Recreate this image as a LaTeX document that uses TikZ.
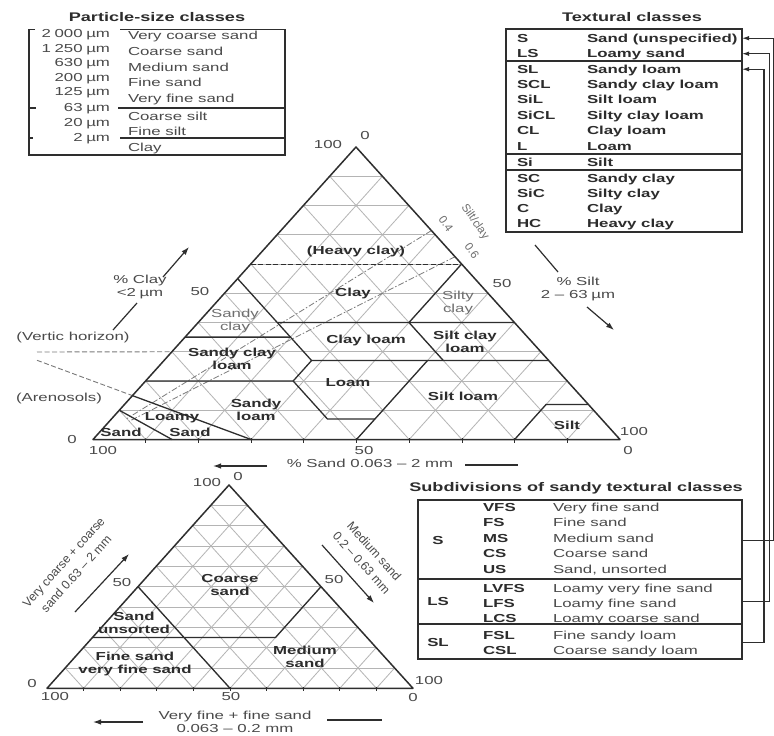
\documentclass[tikz,border=0pt]{standalone}
\usepackage{fontspec}
\setmainfont{Liberation Sans}[FakeStretch=1.45]
\newfontfamily\rotf{Liberation Sans}
\usetikzlibrary{arrows.meta,calc}
\definecolor{ink}{HTML}{2E2E2E}
\definecolor{txt}{HTML}{2C2C2C}
\definecolor{soft}{HTML}{4A4A4A}
\definecolor{pale}{HTML}{6E6E6E}
\definecolor{gridc}{HTML}{B4B4B4}
\definecolor{dashc}{HTML}{7A7A7A}
\newcommand{\nsp}{\hspace{3.6pt}}
\begin{document}
\begin{tikzpicture}[x=1pt,y=-1pt,
  every node/.style={inner sep=0pt,outer sep=0pt,text=txt},
  rg/.style={font=\fontsize{11.6}{13}\selectfont,text=soft},
  bd/.style={font=\fontsize{11.6}{13}\selectfont\bfseries},
  ttl/.style={font=\fontsize{12.5}{14}\selectfont\bfseries},
  lt/.style={font=\fontsize{11.6}{13}\selectfont,text=pale},
  rot/.style={font=\rotf\fontsize{12.3}{17}\selectfont,align=center,text=soft},
  small/.style={font=\rotf\fontsize{11.5}{13}\selectfont,text=pale},
  frame/.style={draw=ink,line width=1.5pt,line join=round},
  bnd/.style={draw=ink,line width=1.3pt,line join=round},
  gridl/.style={draw=gridc,line width=0.8pt},
  tk/.style={draw=ink,line width=0.8pt},
  hdash/.style={draw=ink,line width=1pt,dash pattern=on 5pt off 2.5pt},
  gdash/.style={draw=dashc,line width=0.9pt,dash pattern=on 5pt off 2.5pt},
  rdash/.style={draw=dashc,line width=0.8pt,dash pattern=on 6pt off 2pt on 1.5pt off 2pt},
  tline/.style={draw=ink,line width=1.2pt},
  tablebox/.style={draw=ink,line width=1.3pt,minimum width=#1,anchor=north west},
  conn/.style={draw=ink,line width=1.1pt},
  arr/.style={-{Latex[length=8pt,width=5.5pt]}},
  sarr/.style={-{Latex[length=7pt,width=4.5pt]}},
]
\useasboundingbox (0,0) rectangle (774,736);
\fill[white] (0,0) rectangle (774,736);

% ================= Particle-size classes =================
\node[ttl] (pst) at (157,17) {Particle-size classes};
\draw[tline] (35,29.5) -- (29,29.5) -- (29,155) -- (285,155) -- (285,29.5) -- (120,29.5);
\draw[tline] (29,108) -- (36,108);
\draw[tline] (29,138) -- (33,138);
\draw[tline] (118,108) -- (285,108);
\draw[tline] (120,138) -- (285,138);
\foreach \t/\yy [count=\k] in {2\nsp000\nsp µm/33, 1\nsp250\nsp µm/48, 630\nsp µm/62.5, 200\nsp µm/77, 125\nsp µm/91.5, 63\nsp µm/107, 20\nsp µm/122, 2\nsp µm/137}{
  \node[rg,anchor=base east] (psn\k) at (110,\yy+4) {\t};
}
\foreach \t/\yy [count=\k] in {Very coarse sand/35, Coarse sand/51.5, Medium sand/67, Fine sand/82.5, Very fine sand/98, Coarse silt/116, Fine silt/131, Clay/147}{
  \node[rg,anchor=base west] (psl\k) at (128,\yy+4) {\t};
}

% ================= Textural classes =================
\node[ttl] (tct) at (632,17) {Textural classes};
\node[tablebox=236pt,minimum height=203pt] (tbox) at (506,29) {};
\draw[tline] (506,61) -- (742,61);
\draw[tline] (506,154) -- (742,154);
\draw[tline] (506,170) -- (742,170);
\foreach \ab/\nm/\yy [count=\k] in {S/Sand (unspecified)/38, LS/Loamy sand/53.5, SL/Sandy loam/69, SCL/Sandy clay loam/84.5, SiL/Silt loam/99.5, SiCL/Silty clay loam/115, CL/Clay loam/130.5, L/Loam/146, Si/Silt/162, SC/Sandy clay/178, SiC/Silty clay/193, C/Clay/208, HC/Heavy clay/223}{
  \node[bd,anchor=base west] (ta\k) at (517,\yy+4.2) {\ab};
  \node[bd,anchor=base west] (tn\k) at (587,\yy+4.2) {\nm};
}

% ================= Subdivisions table =================
\node[ttl] (sdt) at (576,488) {Subdivisions of sandy textural classes};
\node[tablebox=324pt,minimum height=159pt] (sbox) at (418,500) {};
\draw[tline] (418,579) -- (742,579);
\draw[tline] (418,624) -- (742,624);
\node[bd,anchor=base] (gS) at (438,544.2) {S};
\node[bd,anchor=base] (gLS) at (438,605.2) {LS};
\node[bd,anchor=base] (gSL) at (438,646.2) {SL};
\foreach \ab/\nm/\yy [count=\k] in {VFS/Very fine sand/507, FS/Fine sand/522, MS/Medium sand/538, CS/Coarse sand/553, US/{Sand, unsorted}/569, LVFS/Loamy very fine sand/588, LFS/Loamy fine sand/603, LCS/Loamy coarse sand/618, FSL/Fine sandy loam/635, CSL/Coarse sandy loam/650}{
  \node[bd,anchor=base west] (sa\k) at (483,\yy+4.2) {\ab};
  \node[rg,anchor=base west] (sn\k) at (553,\yy+4.2) {\nm};
}

% connectors
\coordinate (xS) at (773.4,0);
\coordinate (xLS) at (769.5,0);
\coordinate (xSL) at (764,0);
\draw[conn,sarr] (sbox.east |- gS) -| (xS |- ta1) -- (tbox.east |- ta1);
\draw[conn,sarr] (sbox.east |- gLS) -| (xLS |- ta2) -- (tbox.east |- ta2);
\draw[conn,sarr] (sbox.east |- gSL) -| (xSL |- ta3) -- (tbox.east |- ta3);

% ================= Main triangle =================
\coordinate (L) at (93,439.5);
\coordinate (R) at (620,439.5);
\coordinate (T) at (356,147);
\foreach \i in {1,...,9}{
  \pgfmathsetmacro{\a}{\i/10}
  \pgfmathsetmacro{\b}{1-\i/10}
  \draw[gridl] (barycentric cs:L=\b,T=\a) -- (barycentric cs:R=\b,T=\a);
  \draw[gridl] (barycentric cs:L=\a,T=\b) -- (barycentric cs:L=\a,R=\b);
  \draw[gridl] (barycentric cs:R=\a,T=\b) -- (barycentric cs:R=\a,L=\b);
  \draw[tk] (barycentric cs:L=\b,R=\a) ++(0,-1.5) -- ++(0,4.5);
}
% boundary points (sand L, silt R, clay T), as fractions
\coordinate (a1) at (barycentric cs:L=.90,T=.10);
\coordinate (a2) at (barycentric cs:L=.85,R=.15);
\coordinate (b1) at (barycentric cs:L=.85,T=.15);
\coordinate (b2) at (barycentric cs:L=.70,R=.30);
\coordinate (c1) at (barycentric cs:L=.80,T=.20);
\coordinate (pB) at (barycentric cs:L=.52,R=.28,T=.20);
\coordinate (pA) at (barycentric cs:L=.45,R=.28,T=.27);
\coordinate (pC) at (barycentric cs:L=.52,R=.41,T=.07);
\coordinate (pD) at (barycentric cs:L=.43,R=.50,T=.07);
\coordinate (pE) at (barycentric cs:L=.23,R=.50,T=.27);
\coordinate (s50) at (barycentric cs:L=.50,R=.50);
\coordinate (r27) at (barycentric cs:R=.73,T=.27);
\coordinate (d1) at (barycentric cs:L=.65,T=.35);
\coordinate (d2) at (barycentric cs:L=.45,R=.20,T=.35);
\coordinate (e1) at (barycentric cs:L=.45,T=.55);
\coordinate (f1) at (barycentric cs:L=.45,R=.15,T=.40);
\coordinate (r40) at (barycentric cs:R=.60,T=.40);
\coordinate (g1) at (barycentric cs:L=.20,R=.40,T=.40);
\coordinate (g2) at (barycentric cs:L=.20,R=.53,T=.27);
\coordinate (r60) at (barycentric cs:R=.40,T=.60);
\coordinate (l60) at (barycentric cs:L=.40,T=.60);
\coordinate (h1) at (barycentric cs:L=.20,R=.80);
\coordinate (h2) at (barycentric cs:L=.08,R=.80,T=.12);
\coordinate (r12) at (barycentric cs:R=.88,T=.12);
\coordinate (v1) at (barycentric cs:L=.70,T=.30);
\coordinate (q1) at (barycentric cs:R=.28571,T=.71429);
\coordinate (q2) at (barycentric cs:L=.90,R=.02857,T=.07143);
\coordinate (p1) at (barycentric cs:R=.375,T=.625);
\coordinate (p2) at (barycentric cs:L=.90,R=.0375,T=.0625);
\coordinate (vx) at (37,352);
\coordinate (ax) at (37,360.3);

\draw[rdash] (q1) -- (q2);
\draw[rdash] (p1) -- (p2);
\draw[gdash] (vx) -- (v1);
\draw[gdash] (ax) -- (b1);
\draw[hdash] (l60) -- (r60);

\draw[bnd] (a1) -- (a2);
\draw[bnd] (b1) -- (b2);
\draw[bnd] (c1) -- (pB) -- (pA) -- (r27);
\draw[bnd] (pB) -- (pC) -- (pD);
\draw[bnd] (s50) -- (pE);
\draw[bnd] (d1) -- (d2);
\draw[bnd] (e1) -- (pA);
\draw[bnd] (f1) -- (r40);
\draw[bnd] (g1) -- (g2);
\draw[bnd] (g1) -- (r60);
\draw[bnd] (h1) -- (h2) -- (r12);
\draw[frame] (L) -- (R) -- (T) -- cycle;

% axis numbers
\node[rg] (m100t) at (328,145) {100};
\node[rg] (m0t) at (365,136) {0};
\node[rg] (m50l) at (200,292) {50};
\node[rg] (m0l) at (72,440) {0};
\node[rg] (m100b) at (103,451) {100};
\node[rg] (m50r) at (502,284) {50};
\node[rg] (m100r) at (634,432) {100};
\node[rg] (m0r) at (628,451) {0};
\node[rg] (m50b) at (364,451) {50};

% axis titles and arrows
\node[rg,align=center] (clayax) at (140,287) {\% Clay\\<2\nsp µm};
\coordinate (ca1) at (113,330); \coordinate (ca2) at (137,303);
\coordinate (ca3) at (163,277); \coordinate (ca4) at (189,247);
\draw[tline] (ca1) -- (ca2);
\draw[tline,arr] (ca3) -- (ca4);
\node[rg,align=center] (siltax) at (578,288.5) {\% Silt\\2 – 63\nsp µm};
\coordinate (sa1) at (535,245); \coordinate (sa2) at (558,272);
\coordinate (sa3) at (587,307); \coordinate (sa4) at (614,330);
\draw[tline] (sa1) -- (sa2);
\draw[tline,arr] (sa3) -- (sa4);
\node[rg] (sandax) at (370,463) {\% Sand 0.063 – 2 mm};
\coordinate (sd1) at (267,466); \coordinate (sd2) at (213,466);
\coordinate (sd3) at (465,465); \coordinate (sd4) at (518,465);
\draw[tline,arr] (sd1) -- (sd2);
\draw[tline] (sd3) -- (sd4);

\node[rg] (vh) at (73,337) {(Vertic horizon)};
\node[rg] (aren) at (59,398) {(Arenosols)};
\node[small,rotate=-55] (scr) at (475,222) {Silt/clay};
\node[small,rotate=-55] (sc4) at (446,224) {0.4};
\node[small,rotate=-55] (sc6) at (472,251) {0.6};

% region labels
\node[bd] (hc) at (356,251) {(Heavy clay)};
\node[bd] (cy) at (353,293) {Clay};
\node[lt,align=center] (sicy) at (458,303) {Silty\\clay};
\node[lt,align=center] (sacy) at (235,320.5) {Sandy\\clay};
\node[bd,align=center] (scl) at (232,358.5) {Sandy clay\\loam};
\node[bd] (clo) at (366,340) {Clay loam};
\node[bd,align=center] (sicl) at (465,342) {Silt clay\\loam};
\node[bd] (lo) at (348,383) {Loam};
\node[bd] (silo) at (463,396) {Silt loam};
\node[bd,align=center] (salo) at (256,410) {Sandy\\loam};
\node[bd] (lsa) at (172,418) {Loamy};
\node[bd] (lsb) at (190,432) {Sand};
\node[bd] (sand) at (121,432) {Sand};
\node[bd] (silt) at (567,425) {Silt};

% ================= Bottom triangle =================
\coordinate (L2) at (47,688.3);
\coordinate (R2) at (413,688.3);
\coordinate (T2) at (229,485);
\foreach \i in {1,...,9}{
  \pgfmathsetmacro{\a}{\i/10}
  \pgfmathsetmacro{\b}{1-\i/10}
  \draw[gridl] (barycentric cs:L2=\b,T2=\a) -- (barycentric cs:R2=\b,T2=\a);
  \draw[gridl] (barycentric cs:L2=\a,T2=\b) -- (barycentric cs:L2=\a,R2=\b);
  \draw[gridl] (barycentric cs:R2=\a,T2=\b) -- (barycentric cs:R2=\a,L2=\b);
  \draw[tk] (barycentric cs:L2=\b,R2=\a) ++(0,-1.5) -- ++(0,4.5);
}
\coordinate (bf1) at (barycentric cs:L2=.50,T2=.50);
\coordinate (bf2) at (barycentric cs:L2=.50,R2=.50);
\coordinate (bc1) at (barycentric cs:L2=.75,T2=.25);
\coordinate (bm1) at (barycentric cs:L2=.25,R2=.50,T2=.25);
\coordinate (bm2) at (barycentric cs:R2=.50,T2=.50);
\draw[bnd] (bf1) -- (bf2);
\draw[bnd] (bc1) -- (bm1) -- (bm2);
\draw[frame] (L2) -- (R2) -- (T2) -- cycle;

\node[rg] (b100t) at (207,483) {100};
\node[rg] (b0t) at (238,477) {0};
\node[rg] (b50l) at (122,583) {50};
\node[rg] (b0l) at (32,683) {0};
\node[rg] (b50r) at (334,580) {50};
\node[rg] (b100r) at (429,680) {100};
\node[rg] (b100b) at (55,696) {100};
\node[rg] (b50b) at (231,696) {50};
\node[rg] (b0b) at (413,697) {0};

\node[bd,align=center] (bcs) at (230,585.5) {Coarse\\sand};
\node[bd,align=center] (bus) at (134,623) {Sand\\unsorted};
\node[bd,align=center] (bfs) at (135,664) {Fine sand\\very fine sand};
\node[bd,align=center] (bms) at (305,656.5) {Medium\\sand};

\node[rot,rotate=48] (bvc) at (70,568) {Very coarse + coarse\\sand 0.63 – 2 mm};
\coordinate (bl1) at (75,612); \coordinate (bl2) at (129,554);
\draw[tline,arr] (bl1) -- (bl2);
\node[rot,rotate=-48] (bmd) at (368,557) {Medium sand\\0.2 – 0.63 mm};
\coordinate (br1) at (322,545); \coordinate (br2) at (374,603);
\draw[tline,arr] (br1) -- (br2);
\node[rg,align=center] (bvf) at (235,721.5) {Very fine + fine sand\\0.063 – 0.2 mm};
\coordinate (bb1) at (143,722); \coordinate (bb2) at (93,722);
\coordinate (bb3) at (327,720); \coordinate (bb4) at (382,720);
\draw[tline,arr] (bb1) -- (bb2);
\draw[tline] (bb3) -- (bb4);
\end{tikzpicture}
\end{document}
